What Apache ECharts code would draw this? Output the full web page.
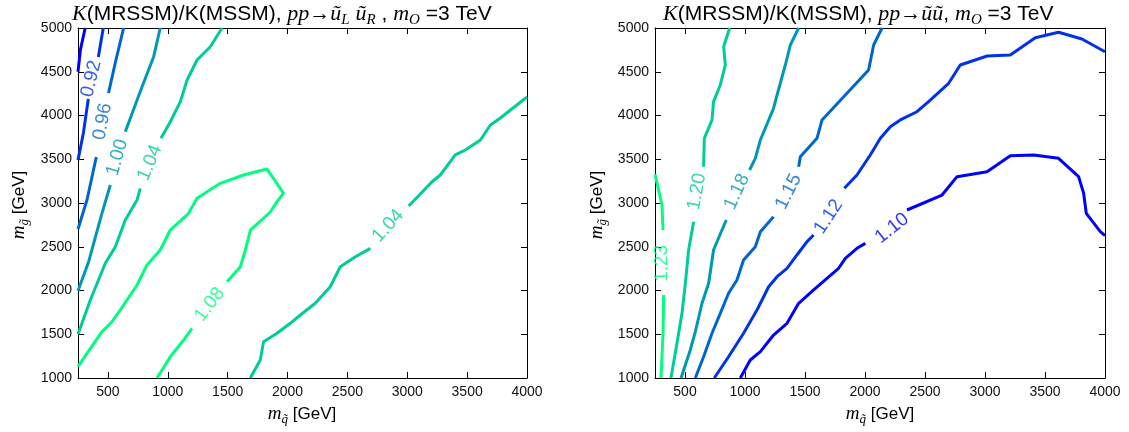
<!DOCTYPE html>
<html><head><meta charset="utf-8">
<script src="https://cdn.jsdelivr.net/npm/echarts@6/dist/echarts.min.js"></script>
<style>html,body{margin:0;padding:0;background:#fff}#c{width:1129px;height:432px}</style>
</head><body><div id="c"></div>
<script>
// ---- tick labels ----
const xTicks = [500,1000,1500,2000,2500,3000,3500,4000];
const yTicks = [1000,1500,2000,2500,3000,3500,4000,4500,5000];

// ---- left panel: pp -> uL uR ; contours [m_squark, m_gluino], split at label gaps ----
const L088a = [[250,4500],[270,4750],[310,5000]];
const L092a = [[250,3490],[295,3800],[336,4190]];
const L092b = [[420,4669],[461,5000]];
const L096a = [[250,2703],[325,3034],[403,3526]];
const L096b = [[505,4257],[561,4600],[631,5000]];
const L100a = [[250,1998],[339,2329],[450,2882],[520,3206]];
const L100b = [[645,3815],[785,4329],[882,4672],[937,5000]];
const L104a = [[250,1499],[353,1891],[478,2311],[562,2501],[645,2806],[743,3034],[770,3168]];
const L104b = [[943,3739],[1021,3929],[1105,4158],[1161,4406],[1244,4634],[1355,4786],[1453,5000]];
const L108a = [[250,1129],[450,1529],[534,1643],[631,1834],[743,2063],[826,2291],[937,2463],[1021,2691],[1173,2882],[1244,3054],[1438,3225],[1633,3320],[1828,3389],[1967,3111],[1912,3015],[1856,2897],[1690,2691],[1648,2463],[1606,2272],[1495,2101]];
const L108b = [[1202,1568],[1132,1434],[1021,1243],[910,1000]];
const L104Ra = [[1689,1000],[1772,1206],[1800,1415],[1912,1511],[2023,1625],[2107,1720],[2232,1854],[2357,2043],[2441,2272],[2567,2386],[2692,2482]];
const L104Rb = [[3012,2966],[3207,3243],[3276,3320],[3401,3549],[3485,3606],[3611,3720],[3694,3891],[3778,3971],[4000,4211]];
// label positions [m_squark, m_gluino, text]
const leftLabels = [[361,4420,'0.92'],[455,3930,'0.96'],[578,3520,'1.00'],[850,3460,'1.04'],[1350,1840,'1.08'],[2840,2740,'1.04']];

// ---- right panel: pp -> u u ----
const R123a = [[300,1000],[317,1514],[322,1949]];
const R123b = [[317,2691],[308,2977],[250,3330]];
const R120a = [[383,1000],[433,1397],[475,1739],[503,2082],[530,2463],[572,2786]];
const R120b = [[655,3415],[661,3739],[725,3949],[738,4158],[794,4349],[836,4577],[822,4786],[872,5000]];
const R118a = [[467,1000],[544,1320],[586,1529],[642,1854],[697,2082],[738,2463],[808,2691],[844,2806]];
const R118b = [[1038,3377],[1086,3511],[1128,3720],[1238,4082],[1267,4234],[1336,4577],[1378,4806],[1447,5000]];
const R115a = [[586,1000],[655,1243],[725,1511],[794,1739],[863,1968],[933,2120],[988,2349],[1086,2501],[1128,2672],[1238,2843]];
const R115b = [[1447,3415],[1461,3529],[1600,3739],[1642,3949],[1836,4234],[2030,4520],[2072,4806],[2142,5000]];
const R112a = [[744,1000],[863,1243],[988,1511],[1100,1777],[1197,2043],[1267,2158],[1350,2254],[1433,2406],[1517,2558],[1572,2634]];
const R112b = [[1828,3168],[1933,3320],[2044,3549],[2128,3739],[2211,3872],[2294,3949],[2433,4043],[2530,4158],[2697,4368],[2794,4577],[3017,4680],[3211,4691],[3419,4889],[3613,4951],[3808,4874],[4000,4729]];
const R110a = [[961,1000],[1044,1206],[1128,1301],[1238,1491],[1350,1625],[1447,1854],[1572,2006],[1683,2139],[1780,2254],[1836,2368],[1933,2482],[2003,2539]];
const R110b = [[2350,2920],[2642,3091],[2767,3301],[3017,3358],[3211,3541],[3405,3549],[3613,3511],[3780,3301],[3822,3111],[3844,2882],[3961,2672],[4000,2626]];
const rightLabels = [[308,2310,'1.23'],[600,3129,'1.20'],[933,3129,'1.18'],[1363,3129,'1.15'],[1697,2843,'1.12'],[2225,2711,'1.10']];

const levelColors = ['#0000ff','#0033e6','#0066cc','#0099b3','#00cc99','#00ff80'];

// contour definitions: [panel, color index, segA, segB, label]
const contours = [
  [0,0,L088a,null,null],
  [0,1,L092a,L092b,leftLabels[0]],
  [0,2,L096a,L096b,leftLabels[1]],
  [0,3,L100a,L100b,leftLabels[2]],
  [0,4,L104a,L104b,leftLabels[3]],
  [0,5,L108a,L108b,leftLabels[4]],
  [0,4,L104Ra,L104Rb,leftLabels[5]],
  [1,5,R123a,R123b,rightLabels[0]],
  [1,4,R120a,R120b,rightLabels[1]],
  [1,3,R118a,R118b,rightLabels[2]],
  [1,2,R115a,R115b,rightLabels[3]],
  [1,1,R112a,R112b,rightLabels[4]],
  [1,0,R110a,R110b,rightLabels[5]]
];

const SANS = 'Liberation Sans';
const SERIF = 'Liberation Serif';

function xAxisPair(g){
  const base = {gridIndex:g,type:'value',min:250,max:4000,splitLine:{show:false},
    axisLine:{onZero:false,lineStyle:{color:'#000',width:1}},
    axisTick:{show:true,inside:true,length:6,customValues:xTicks,lineStyle:{color:'#000',width:1}}};
  return [
    Object.assign({},base,{position:'bottom',axisLabel:{customValues:xTicks,fontSize:14,color:'#111',fontFamily:SANS,margin:7,formatter:v=>String(v)}}),
    Object.assign({},base,{position:'top',axisLabel:{show:false}})
  ];
}
function yAxisPair(g){
  const base = {gridIndex:g,type:'value',min:1000,max:5000,interval:500,splitLine:{show:false},
    axisLine:{onZero:false,lineStyle:{color:'#000',width:1}},
    axisTick:{show:true,inside:true,length:6,customValues:yTicks,lineStyle:{color:'#000',width:1}}};
  return [
    Object.assign({},base,{position:'left',axisLabel:{customValues:yTicks,fontSize:14,color:'#111',fontFamily:SANS,margin:6,formatter:v=>String(v)}}),
    Object.assign({},base,{position:'right',axisLabel:{show:false}})
  ];
}

const series = [];
contours.forEach(c=>{
  const ax = c[0]*2;
  [c[2],c[3]].forEach(seg=>{
    if(!seg) return;
    series.push({type:'line',xAxisIndex:ax,yAxisIndex:ax,data:seg,showSymbol:false,symbol:'none',
      lineStyle:{color:levelColors[c[1]],width:3},silent:true,animation:false,z:2});
  });
});
function labelSeries(angles){
  const out=[];
  contours.forEach((c,i)=>{
    if(!c[4]) return;
    const ax=c[0]*2;
    out.push({type:'scatter',xAxisIndex:ax,yAxisIndex:ax,symbolSize:1,itemStyle:{color:'rgba(0,0,0,0)'},
      silent:true,animation:false,z:3,
      data:[{value:[c[4][0],c[4][1]],label:{show:true,formatter:c[4][2],position:'inside',rotate:angles?angles[i]:0,
        fontSize:19,fontFamily:SANS,color:levelColors[c[1]]}}]});
  });
  return out;
}

const richT = {
  n:{fontFamily:SANS,fontSize:21,color:'#000',lineHeight:28},
  i:{fontFamily:SERIF,fontStyle:'italic',fontSize:22,color:'#000',lineHeight:28},
  s:{fontFamily:SERIF,fontStyle:'italic',fontSize:15,color:'#000',lineHeight:15,verticalAlign:'bottom'}
};
const richA = {
  i:{fontFamily:SERIF,fontStyle:'italic',fontSize:19,color:'#000',lineHeight:24},
  s:{fontFamily:SERIF,fontStyle:'italic',fontSize:13,color:'#000',lineHeight:13,verticalAlign:'bottom'},
  n:{fontFamily:SANS,fontSize:17,color:'#000',lineHeight:24}
};

const graphic = [
  {type:'text',left:72,top:3,style:{rich:richT,text:'{i|K}{n|(MRSSM)/K(MSSM), }{i|pp}{n|→}{i|ũ}{s|L}{n| }{i|ũ}{s|R}{n| , }{i|m}{s|O}{n| =3 TeV}'}},
  {type:'text',left:663,top:3,style:{rich:richT,text:'{i|K}{n|(MRSSM)/K(MSSM), }{i|pp}{n|→}{i|ũũ}{n|, }{i|m}{s|O}{n| =3 TeV}'}},
  {type:'text',x:302,y:414,style:{rich:richA,align:'center',verticalAlign:'middle',text:'{i|m}{s|q̃}{n| [GeV]}'}},
  {type:'text',x:880,y:414,style:{rich:richA,align:'center',verticalAlign:'middle',text:'{i|m}{s|q̃}{n| [GeV]}'}},
  {type:'text',x:19,y:205,rotation:Math.PI/2,style:{rich:richA,align:'center',verticalAlign:'middle',text:'{i|m}{s|g̃}{n| [GeV]}'}},
  {type:'text',x:597,y:205,rotation:Math.PI/2,style:{rich:richA,align:'center',verticalAlign:'middle',text:'{i|m}{s|g̃}{n| [GeV]}'}}
];

const chart = echarts.init(document.getElementById('c'),null,{renderer:'canvas'});
chart.setOption({
  backgroundColor:'#fff',animation:false,
  grid:[{left:78,top:28,width:449,height:350},{left:655,top:28,width:450,height:350}],
  xAxis:[...xAxisPair(0),...xAxisPair(1)],
  yAxis:[...yAxisPair(0),...yAxisPair(1)],
  graphic:graphic,
  series:series.concat(labelSeries(null))
});
// label angles from the contour direction across each gap, via the chart's own scales
const angles = contours.map(c=>{
  if(!c[4]) return 0;
  const ax=c[0]*2;
  const p1=chart.convertToPixel({xAxisIndex:ax,yAxisIndex:ax},c[2][c[2].length-1]);
  const p2=chart.convertToPixel({xAxisIndex:ax,yAxisIndex:ax},c[3][0]);
  let a=Math.atan2(p1[1]-p2[1],p2[0]-p1[0])*180/Math.PI;
  if(a>90) a-=180; if(a<=-85) a+=180;
  return a;
});
chart.setOption({series:series.concat(labelSeries(angles))},{replaceMerge:['series']});
</script></body></html>
